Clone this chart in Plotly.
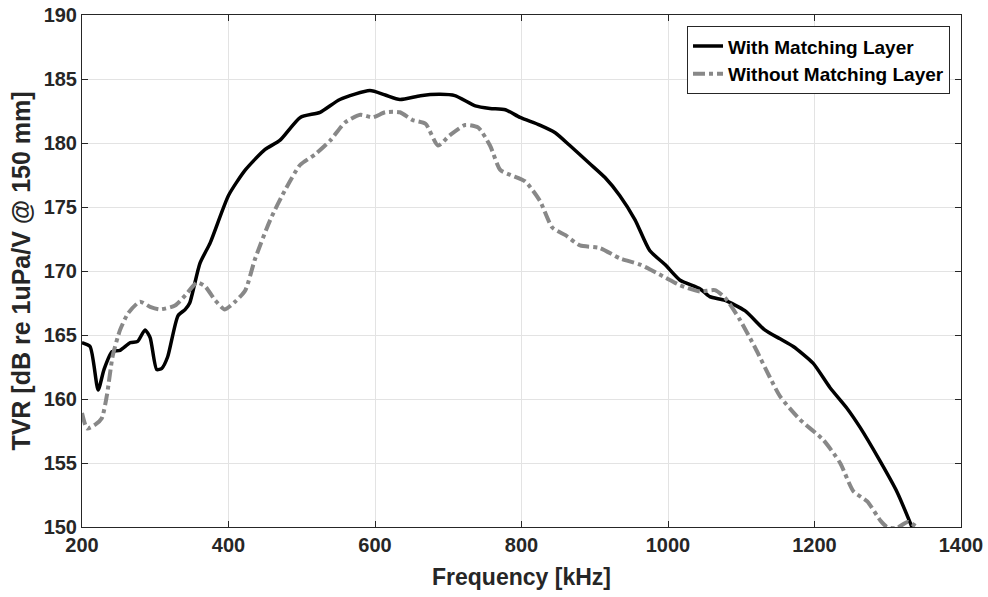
import plotly.graph_objects as go

freq_with = [200, 211, 222, 230, 241, 252, 266, 276, 286, 293, 302, 309, 317, 331, 341, 347, 361, 375,
             400, 423, 450, 470, 498, 525, 552, 593, 614, 634, 662, 689, 709, 737, 757, 778, 798, 825,
             846, 866, 893, 914, 934, 955, 975, 996, 1016, 1044, 1057, 1078, 1105, 1132, 1153, 1171,
             1198, 1221, 1244, 1262, 1289, 1313, 1333]
tvr_with = [164.4, 164.1, 160.7, 162.3, 163.7, 163.8, 164.4, 164.5, 165.4, 164.8, 162.3, 162.4, 163.3,
            166.5, 167.0, 167.5, 170.6, 172.2, 175.9, 177.9, 179.5, 180.2, 182.0, 182.4, 183.4, 184.1,
            183.75, 183.4, 183.7, 183.8, 183.7, 182.9, 182.7, 182.6, 182.0, 181.4, 180.8, 179.8, 178.4,
            177.3, 175.9, 174.0, 171.6, 170.5, 169.3, 168.6, 168.0, 167.7, 166.9, 165.4, 164.7, 164.1,
            162.8, 160.9, 159.3, 157.8, 155.2, 152.7, 150.0]

freq_without = [200, 207, 218, 227, 234, 242, 252, 263, 279, 293, 306, 327, 341, 357, 368, 382, 395,
                409, 423, 436, 457, 477, 498, 518, 539, 559, 580, 597, 614, 634, 651, 669, 686, 702,
                723, 741, 757, 771, 785, 805, 825, 842, 860, 880, 907, 934, 962, 996, 1016, 1044, 1064,
                1078, 1098, 1119, 1139, 1153, 1180, 1212, 1235, 1253, 1272, 1290, 1299, 1312, 1327, 1340]
tvr_without = [158.9, 157.7, 158.0, 158.5, 160.3, 163.4, 165.4, 166.7, 167.6, 167.2, 167.0, 167.3,
               168.1, 169.1, 168.8, 167.7, 167.0, 167.6, 168.5, 170.9, 174.0, 176.3, 178.3, 179.1,
               180.2, 181.6, 182.2, 182.0, 182.4, 182.4, 181.8, 181.5, 179.8, 180.6, 181.4, 181.2,
               179.8, 177.9, 177.5, 177.0, 175.5, 173.4, 172.8, 172.0, 171.8, 171.0, 170.5, 169.5,
               168.9, 168.4, 168.5, 167.9, 166.2, 164.0, 161.7, 160.2, 158.4, 156.8, 155.0, 152.8,
               152.0, 150.5, 150.0, 149.9, 150.4, 150.0]

x_ticks = [200, 400, 600, 800, 1000, 1200, 1400]
y_ticks = [150, 155, 160, 165, 170, 175, 180, 185, 190]

FONT = "Liberation Sans, Arial, sans-serif"
TXT = "#262626"

fig = go.Figure()
fig.add_trace(go.Scatter(x=freq_with, y=tvr_with, mode="lines", name="With Matching Layer",
                         line=dict(color="black", width=3.5, shape="spline", smoothing=0.6)))
fig.add_trace(go.Scatter(x=freq_without, y=tvr_without, mode="lines", name="Without Matching Layer",
                         line=dict(color="#888888", width=4, dash="dashdot", shape="spline", smoothing=0.6)))

axis_common = dict(showline=True, linecolor=TXT, linewidth=1, mirror="ticks", ticks="inside",
                   ticklen=6, tickcolor=TXT, showgrid=True, gridcolor="#e3e3e3", gridwidth=1,
                   zeroline=False, automargin=False, ticklabeloverflow="allow",
                   tickfont=dict(family=FONT, size=20, color=TXT, weight="bold"))

fig.update_layout(
    width=988, height=597,
    margin=dict(l=82, r=27, t=15, b=70),
    paper_bgcolor="white", plot_bgcolor="white",
    font=dict(family=FONT, color=TXT),
    xaxis=dict(range=[200, 1400], tickvals=x_ticks,
               title=dict(text="Frequency [kHz]", font=dict(family=FONT, size=23, color=TXT, weight="bold"),
                          standoff=13),
               **axis_common),
    yaxis=dict(range=[150, 190], tickvals=y_ticks,
               title=dict(text="TVR [dB re 1uPa/V @ 150 mm]", font=dict(family=FONT, size=25, color=TXT, weight="bold"),
                          standoff=5),
               **axis_common),
    legend=dict(x=0.9875, y=0.978, xanchor="right", yanchor="top", bgcolor="white",
                bordercolor=TXT, borderwidth=1,
                font=dict(family=FONT, size=19, color="black", weight="bold"),
                tracegroupgap=0, itemwidth=30),
    showlegend=True,
)

# remove the default 8px page margin so the figure sits at the window's top-left corner
fig.write_html("out.html", config={"displayModeBar": False},
               post_script="document.body.style.margin='0';")
